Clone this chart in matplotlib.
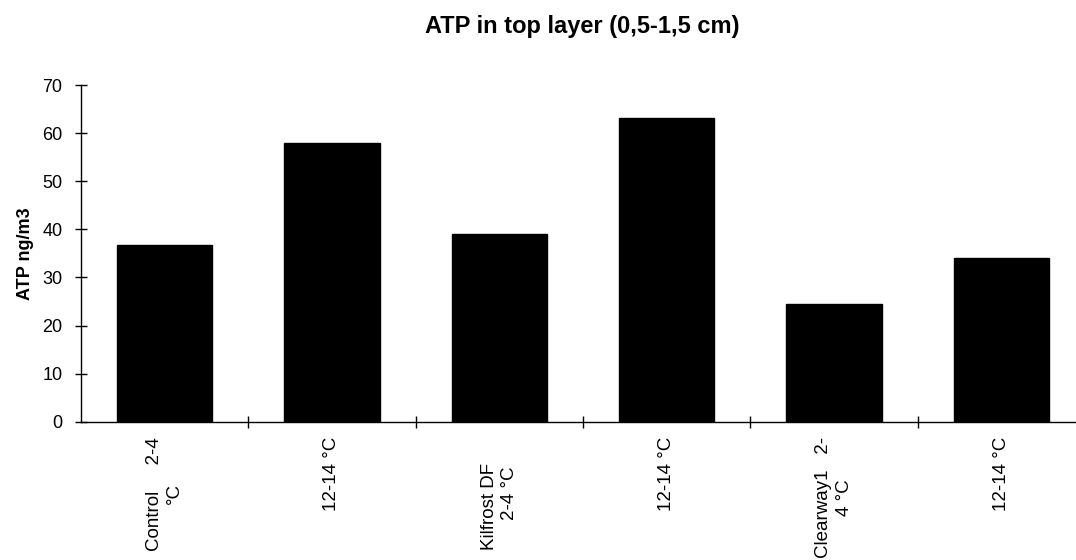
import numpy as np
import matplotlib.pyplot as plt
from matplotlib import rcParams

rcParams['font.family'] = ['Liberation Sans', 'DejaVu Sans']

# data
labels = ["Control     2-4\n°C", "12-14 °C", "Kilfrost DF     \n2-4 °C",
          "12-14 °C", "Clearway1   2-\n4 °C", "12-14 °C"]
atp = [36.7, 57.9, 39.0, 63.1, 24.5, 34.0]
yticks = [0, 10, 20, 30, 40, 50, 60, 70]

fig = plt.figure(figsize=(10.76, 5.6), dpi=100)
ax = fig.add_axes([0.0753, 0.247, 0.933, 0.601])

x = np.arange(len(atp))
ax.bar(x, atp, width=0.57, color='black', edgecolor='black')

ax.set_xlim(-0.5, len(atp) - 0.5)
ax.set_ylim(0, 70)
ax.set_yticks(yticks)
ax.tick_params(axis='y', direction='inout', length=9, width=1, labelsize=13, pad=9)

# labels on bar centres, ticks on the category boundaries
ax.set_xticks(x)
ax.set_xticklabels(labels, rotation=90, fontsize=13.5, va='top', ha='center',
                   multialignment='center', linespacing=1.25)
ax.tick_params(axis='x', which='major', length=0, pad=11)
ax.set_xticks(x[:-1] + 0.5, minor=True)
ax.tick_params(axis='x', which='minor', direction='inout', length=9, width=1)

for side in ['top', 'right']:
    ax.spines[side].set_visible(False)
ax.spines['left'].set_linewidth(1)
ax.spines['bottom'].set_linewidth(1)

ax.set_ylabel("ATP ng/m3", fontsize=13, fontweight='bold', labelpad=6)
fig.text(0.541, 0.953, "ATP in top layer (0,5-1,5 cm)", ha='center', va='center',
         fontsize=17, fontweight='bold')

plt.savefig("out.png", dpi=100)
plt.close()
